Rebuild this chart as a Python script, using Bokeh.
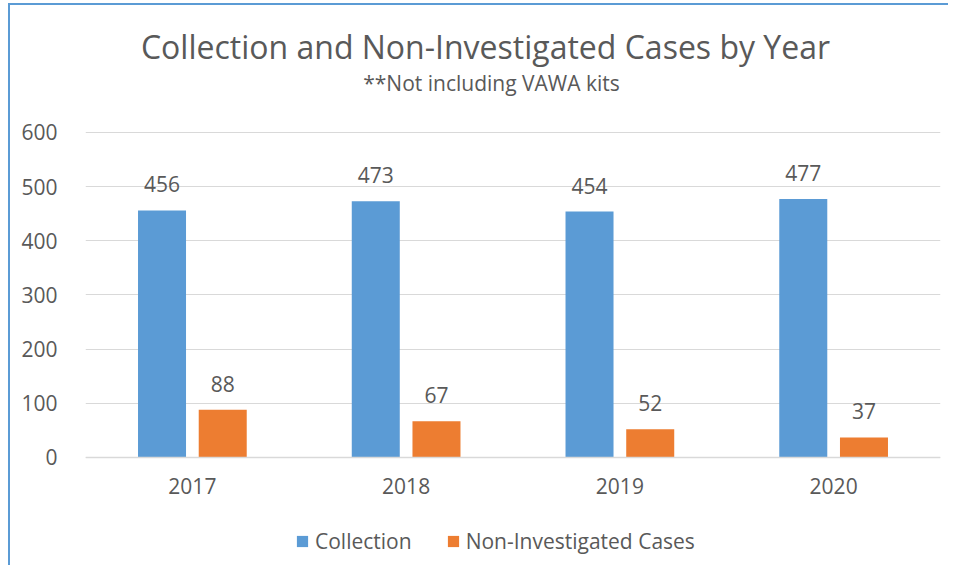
from bokeh.plotting import figure
from bokeh.models import (ColumnDataSource, FactorRange, FixedTicker, LabelSet, Label,
                          Legend, LegendItem, Range1d)
from bokeh.core.properties import value
from bokeh.transform import dodge
from bokeh.embed import file_html
from bokeh.resources import INLINE

years = ["2017", "2018", "2019", "2020"]
collection = [456, 473, 454, 477]
non_investigated = [88, 67, 52, 37]
y_ticks = [0, 100, 200, 300, 400, 500, 600]

title_text = "Collection and Non-Investigated Cases by Year"
subtitle_text = "**Not including VAWA kits"
series_names = ["Collection", "Non-Investigated Cases"]

BLUE = "#5B9BD5"
ORANGE = "#ED7D31"
TEXT = "#595959"
GRID = "#D9D9D9"
FONT = "Open Sans"

src = ColumnDataSource(dict(
    years=years,
    collection=collection,
    non_inv=non_investigated,
    collection_txt=[str(v) for v in collection],
    non_inv_txt=[str(v) for v in non_investigated],
))

# frame covers the full height; value axis 0..600 sits between px 132 and 457 of the page
p = figure(width=940, height=562, x_range=FactorRange(*years, range_padding=0),
           y_range=Range1d(-203.08, 834.46), output_backend="svg", toolbar_location=None,
           min_border_left=75, min_border_right=10, min_border_top=0, min_border_bottom=0)
p.styles = {"margin-left": "8px", "margin-top": "3px",
            "border-left": "2px solid #5B9BD5", "border-top": "2px solid #5B9BD5"}
p.title = None
p.outline_line_color = None
p.background_fill_color = "white"
p.border_fill_color = "white"

bw = 0.2246
r1 = p.vbar(x=dodge("years", -0.142, range=p.x_range), top="collection", width=bw,
            source=src, fill_color=BLUE, line_color=None)
r2 = p.vbar(x=dodge("years", 0.142, range=p.x_range), top="non_inv", width=bw,
            source=src, fill_color=ORANGE, line_color=None)

for col, txt, off in (("collection", "collection_txt", -0.142), ("non_inv", "non_inv_txt", 0.142)):
    ls = LabelSet(x=dodge("years", off, range=p.x_range), y=col, text=txt, source=src,
                  y_offset=18, text_align="center", text_baseline="alphabetic",
                  text_font=value(FONT), text_font_size=value("21px"), text_color=TEXT)
    p.add_layout(ls)

# axes
p.yaxis.ticker = FixedTicker(ticks=y_ticks)
p.yaxis.axis_line_color = None
p.yaxis.major_tick_line_color = None
p.yaxis.minor_tick_line_color = None
p.yaxis.major_label_standoff = 22
p.yaxis.major_label_text_font = FONT
p.yaxis.major_label_text_font_size = "21px"
p.yaxis.major_label_text_color = TEXT

p.xaxis.fixed_location = 0
p.xaxis.axis_line_color = GRID
p.xaxis.axis_line_width = 1.5
p.xaxis.major_tick_line_color = None
p.xaxis.minor_tick_line_color = None
p.xaxis.major_label_standoff = 15
p.xaxis.major_label_text_font = FONT
p.xaxis.major_label_text_font_size = "21px"
p.xaxis.major_label_text_color = TEXT

p.xgrid.grid_line_color = None
p.ygrid.grid_line_color = GRID
p.ygrid.grid_line_width = 1
p.ygrid.ticker = FixedTicker(ticks=y_ticks)

# titles (screen units, relative to the frame's bottom-left corner)
p.add_layout(Label(x=400, y=521, x_units="screen", y_units="screen", text=title_text,
                   text_align="center", text_baseline="alphabetic", text_font=FONT,
                   text_font_size="32px", text_color=TEXT))
p.add_layout(Label(x=406, y=485, x_units="screen", y_units="screen", text=subtitle_text,
                   text_align="center", text_baseline="alphabetic", text_font=FONT,
                   text_font_size="21px", text_color=TEXT))

legend = Legend(items=[LegendItem(label=series_names[0], renderers=[r1]),
                       LegendItem(label=series_names[1], renderers=[r2])],
                location=(210, 12), orientation="horizontal",
                glyph_width=14, glyph_height=14, label_height=14, label_standoff=6,
                spacing=34, padding=0, margin=0,
                label_text_font=FONT, label_text_font_size="21px", label_text_color=TEXT,
                border_line_color=None, background_fill_alpha=0)
p.add_layout(legend, "center")

open("out.html", "w").write(file_html(p, INLINE))
